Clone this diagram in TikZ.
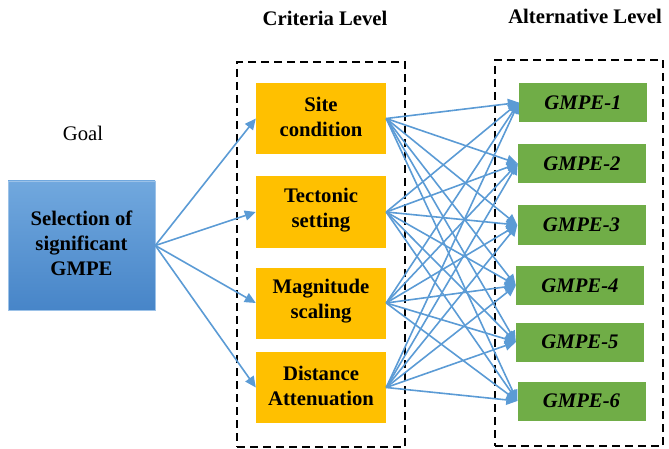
\documentclass[tikz,border=0pt]{standalone}
\usepackage{fontspec}
\setmainfont{Liberation Serif}
\usetikzlibrary{arrows.meta}
\definecolor{critfill}{HTML}{FFC000}
\definecolor{altfill}{HTML}{70AD47}
\definecolor{linkblue}{HTML}{5B9BD5}
\definecolor{goaltop}{HTML}{71A8DE}
\definecolor{goalbot}{HTML}{4785C8}
\tikzset{
  txt/.style={font=\fontsize{20.7}{25}\selectfont\bfseries, text=black, align=center, inner sep=0pt},
  goalbox/.style={txt, minimum width=147pt, minimum height=129pt, top color=goaltop, bottom color=goalbot, draw=goaltop!70!white, line width=0.6pt},
  critbox/.style={fill=critfill, minimum width=130pt, minimum height=71pt, inner sep=0pt},
  altbox/.style={fill=altfill, minimum width=128pt, minimum height=39pt, inner sep=0pt},
  alttxt/.style={txt, font=\fontsize{20.7}{25}\selectfont\bfseries\itshape},
  frame/.style={draw=black, line width=2.4pt, dash pattern=on 8pt off 5pt},
  link/.style={draw=linkblue, line width=1.6pt, -{Triangle[length=11pt,width=10pt]}},
}
\begin{document}
\begin{tikzpicture}[x=1pt,y=-1pt]
\useasboundingbox (0,0) rectangle (669,449);
% frames
\node[frame, minimum width=168pt, minimum height=385pt, inner sep=0pt] (cframe) at (321,254.5) {};
\node[frame, minimum width=168pt, minimum height=386pt, inner sep=0pt] (aframe) at (579,253) {};
% titles
\node[txt] (ctitle) at (325,18) {Criteria Level};
\node[txt] (atitle) at (585,16) {Alternative Level};
\node[txt, font=\fontsize{20.7}{25}\selectfont] (goallab) at (83,133) {Goal};
% goal
\node[goalbox] (goal) at (81.5,245.5) {};
\node[txt] (goaltxt) at (81.5,243.5) {Selection of\\significant\\GMPE};
% criteria
\node[critbox] (c1) at (321,118.5) {};
\node[critbox] (c2) at (321,212) {};
\node[critbox] (c3) at (321,303) {};
\node[critbox] (c4) at (321,387.5) {};
\node[txt] (t1) at (c1) [yshift=2pt] {Site\\condition};
\node[txt] (t2) at (c2) [yshift=2pt] {Tectonic\\setting};
\node[txt] (t3) at (c3) [yshift=2pt] {Magnitude\\scaling};
\node[txt] (t4) at (c4) [yshift=2pt] {Distance\\Attenuation};
% alternatives
\node[altbox] (a1) at (583,102.5) {};
\node[altbox] (a2) at (582,163.5) {};
\node[altbox] (a3) at (581.5,225) {};
\node[altbox] (a4) at (580,285.5) {};
\node[altbox] (a5) at (580,342) {};
\node[altbox] (a6) at (581.5,401) {};
\foreach \a/\n in {a1/1,a2/2,a3/3,a4/4,a5/5,a6/6}
  \node[alttxt] (l\n) at (\a) {GMPE-\n};
% goal links
\foreach \c in {c1,c2,c3,c4}
  \draw[link] (goal.east) -- (\c.west);
% criteria to alternatives
\foreach \c in {c1,c2,c3,c4}
  \foreach \a in {a1,a2,a3,a4,a5,a6}
    \draw[link] (\c.east) -- (\a.west);
\end{tikzpicture}
\end{document}
